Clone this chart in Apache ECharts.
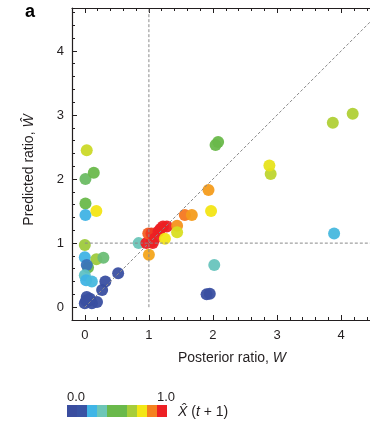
<!DOCTYPE html>
<html>
<head>
<meta charset="utf-8">
<script src="https://cdn.jsdelivr.net/npm/echarts@6/dist/echarts.min.js"></script>
<style>
  html, body { margin: 0; padding: 0; background: #fff; }
</style>
</head>
<body>
<div id="chart" style="width: 370px;height: 423px;"></div>
<script>
// posterior ratio W (x), predicted ratio W-hat (y), X-hat(t+1) (colour)
var posterior = [0.03, 0.01, 0.14, 0.01, 0.01, 0.18, 0.0, 0.0, 0.18, 0.29, 0.05, 0.03, 0.0, 0.02, 0.11,
  0.52, 0.32, 0.27, 0.03, 0.0, 0.11, 0.19, 0.06, 0.02, 0.08,
  0.84, 1.0, 0.96, 1.04, 1.06, 0.99, 1.04, 1.09, 1.15, 1.22, 1.28, 1.18, 1.25, 1.44, 1.44, 1.56, 1.67,
  1.93, 1.97, 2.9, 2.88, 2.04, 2.08, 3.87, 4.18, 3.89, 2.02, 1.9, 1.95]
var predicted = [2.45, 2.0, 2.1, 1.62, 1.44, 1.5, 0.97, 0.78, 0.75, 0.77, 0.62, 0.66, 0.5, 0.42, 0.4,
  0.53, 0.4, 0.27, 0.16, 0.06, 0.06, 0.08, 0.1, 0.1, 0.13,
  1.0, 0.82, 1.0, 1.02, 1.0, 1.15, 1.15, 1.07, 1.18, 1.26, 1.26, 1.22, 1.07, 1.27, 1.17, 1.44, 1.44,
  1.83, 1.5, 2.08, 2.21, 2.53, 2.58, 2.88, 3.02, 1.15, 0.66, 0.2, 0.21]
var xhat = [0.72, 0.42, 0.5, 0.5, 0.22, 0.78, 0.65, 0.22, 0.65, 0.4, 0.5, 0.15, 0.3, 0.22, 0.24,
  0.04, 0.04, 0.04, 0.04, 0.04, 0.04, 0.04, 0.04, 0.04, 0.04,
  0.33, 0.85, 1.0, 1.0, 1.0, 0.93, 0.97, 1.0, 1.0, 1.0, 1.0, 1.0, 0.78, 0.87, 0.74, 0.9, 0.86,
  0.86, 0.78, 0.7, 0.76, 0.5, 0.5, 0.68, 0.68, 0.24, 0.32, 0.04, 0.04]

var majorTicks = [0, 1, 2, 3, 4]
var colorSteps = ['#3a4d9f', '#3953a4', '#40b5e6', '#6dc6b7', '#6ab94b', '#6ab94b', '#a7cd3a', '#f3e715', '#f5821f', '#ed2024']

var xMin = -0.2, xMax = 4.45
var yMin = -0.2, yMax = 4.67

var minorTicks = []
for (var t = -0.2; t < 4.7; t += 0.2) {
  minorTicks.push(Math.round(t * 10) / 10)
}

var points = posterior.map(function(x, i) {
  return [x, predicted[i], xhat[i]]
})

var axisColor = '#231f20'
var font = 'Liberation Sans'
var dashStyle = { color: '#8a8a8a', width: 1, type: [3, 2] }

function makeAxis(pos, min, max, ticks, len, showLine, showLabel) {
  return {
    type: 'value',
    position: pos,
    min: min,
    max: max,
    axisLine: { show: showLine, onZero: false, lineStyle: { color: axisColor, width: 1.2 }},
    axisTick: { show: true, inside: true, length: len, customValues: ticks, lineStyle: { color: axisColor, width: 1 }},
    axisLabel: { show: showLabel, customValues: ticks, margin: pos === 'left' ? 8 : 9, fontSize: 13, color: axisColor, fontFamily: font },
    splitLine: { show: false }
  }
}

var colorbar = colorSteps.map(function(c, i) {
  return {
    type: 'rect',
    shape: { x: 67 + i * 10, y: 405, width: 10, height: 12 },
    style: { fill: c }
  }
})

var chart = echarts.init(document.getElementById('chart'))
chart.setOption({
  animation: false,
  grid: { left: 72, right: 0, top: 8, bottom: 103 },
  xAxis: [
    makeAxis('bottom', xMin, xMax, majorTicks, 5, true, true),
    makeAxis('bottom', xMin, xMax, minorTicks, 3, false, false),
    makeAxis('top', xMin, xMax, majorTicks, 5, true, false),
    makeAxis('top', xMin, xMax, minorTicks, 3, false, false)
  ],
  yAxis: [
    makeAxis('left', yMin, yMax, majorTicks, 5, true, true),
    makeAxis('left', yMin, yMax, minorTicks, 3, false, false)
  ],
  visualMap: {
    show: false,
    type: 'continuous',
    dimension: 2,
    seriesIndex: 3,
    min: 0,
    max: 1,
    inRange: { color: colorSteps }
  },
  series: [
    { type: 'line', data: [[1, 0], [1, yMax]], symbol: 'none', lineStyle: dashStyle, silent: true },
    { type: 'line', data: [[0, 1], [xMax, 1]], symbol: 'none', lineStyle: dashStyle, silent: true },
    { type: 'line', data: [[0, 0], [yMax, yMax]], symbol: 'none', lineStyle: dashStyle, silent: true, clip: true },
    {
      type: 'scatter',
      data: points,
      symbolSize: 12,
      itemStyle: { opacity: 0.95 }
    }
  ],
  graphic: [
    { type: 'text', left: 25, top: 3, style: { text: 'a', font: 'bold 18px "Liberation Sans"', fill: '#000' }},
    {
      type: 'text', x: 232, y: 358,
      style: {
        text: 'Posterior ratio, {i|W}',
        font: '14px "Liberation Sans"', fill: axisColor, align: 'center', verticalAlign: 'middle',
        rich: { i: { fontStyle: 'italic', fontSize: 14, fontFamily: font }}
      }
    },
    {
      type: 'text', x: 29, y: 170, rotation: Math.PI / 2,
      style: {
        text: 'Predicted ratio, {i|\u0174}',
        font: '14px "Liberation Sans"', fill: axisColor, align: 'center', verticalAlign: 'middle',
        rich: { i: { fontStyle: 'italic', fontSize: 14, fontFamily: font }}
      }
    },
    { type: 'group', children: colorbar },
    { type: 'text', x: 67, y: 391, style: { text: '0.0', font: '13px "Liberation Sans"', fill: axisColor }},
    { type: 'text', x: 157, y: 391, style: { text: '1.0', font: '13px "Liberation Sans"', fill: axisColor }},
    {
      type: 'text', x: 178, y: 412,
      style: {
        text: '{i|X\u0302} ({i|t} + 1)',
        font: '14px "Liberation Sans"', fill: axisColor, verticalAlign: 'middle',
        rich: { i: { fontStyle: 'italic', fontSize: 14, fontFamily: font }}
      }
    }
  ]
})
</script>
</body>
</html>
